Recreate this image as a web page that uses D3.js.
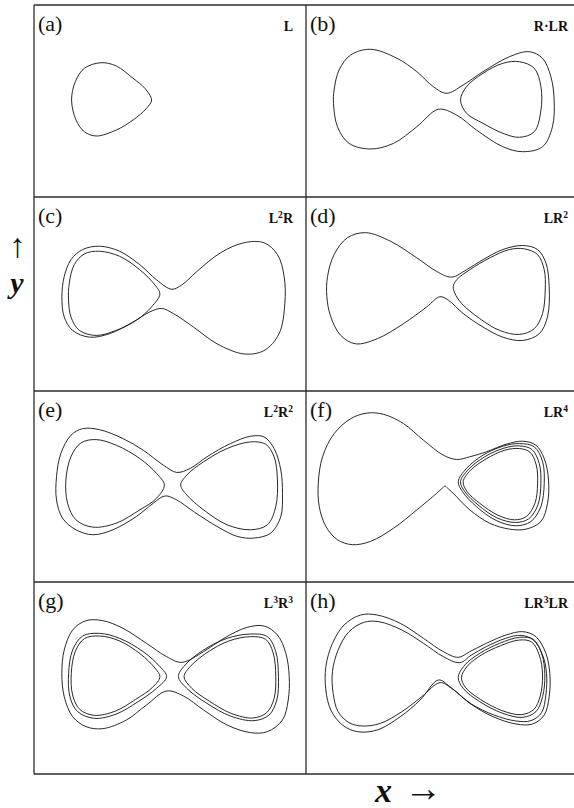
<!DOCTYPE html>
<html>
<head>
<meta charset="utf-8">
<script src="https://cdn.jsdelivr.net/npm/d3@7"></script>
<style>
  html, body { margin: 0; padding: 0; background: #fff; }
  svg { display: block; }
</style>
</head>
<body>
<svg id="fig" width="574" height="808"></svg>
<script>
// Periodic orbits in the (x, y) phase plane, one panel per symbolic sequence.
// Each orbit is stored as closed loops of (x, y) samples.

const panelLetters = ["(a)", "(b)", "(c)", "(d)", "(e)", "(f)", "(g)", "(h)"];

// symbolic names: [base, superscript] pieces
const symbolNames = [
  [["L", ""]],
  [["R·LR", ""]],
  [["L", "2"], ["R", ""]],
  [["LR", "2"]],
  [["L", "2"], ["R", "2"]],
  [["LR", "4"]],
  [["L", "3"], ["R", "3"]],
  [["LR", "3"], ["LR", ""]]
];

// (a) L
const orbitA1 = [[-1.366,0.766],[-1.066,0.70],[-0.734,0.454],[-0.50,0.254],[-0.366,0.02],[-0.466,-0.146],[-0.734,-0.38],[-1.066,-0.58],[-1.466,-0.70],[-1.70,-0.614],[-1.866,-0.38],[-1.954,0.02],[-1.88,0.386],[-1.70,0.654]];

// (b) R·LR
const orbitB1 = [[0.134,0.154],[-0.134,0.286],[-0.466,0.586],[-0.866,0.854],[-1.40,1.034],[-1.80,0.92],[-2.034,0.62],[-2.134,0.22],[-2.146,-0.046],[-2.066,-0.514],[-1.834,-0.846],[-1.40,-0.96],[-0.934,-0.846],[-0.466,-0.514],[-0.034,-0.166],[0.334,-0.28],[0.734,-0.58],[1.266,-0.914],[1.666,-1.014],[2.066,-0.914],[2.266,-0.514],[2.30,0.02],[2.234,0.486],[2.066,0.854],[1.80,0.986],[1.40,0.886],[0.866,0.586],[0.466,0.32]];
const orbitB2 = [[0.414,0.02],[0.534,0.286],[0.866,0.554],[1.266,0.754],[1.60,0.786],[1.90,0.654],[2.034,0.286],[2.034,-0.18],[1.90,-0.614],[1.60,-0.726],[1.266,-0.646],[0.866,-0.446],[0.534,-0.246]];

// (c) L²R
const orbitC1 = [[0.034,0.094],[-0.266,0.28],[-0.60,0.58],[-1.0,0.846],[-1.40,0.946],[-1.734,0.88],[-1.966,0.68],[-2.10,0.346],[-2.146,-0.054],[-2.10,-0.454],[-1.934,-0.72],[-1.60,-0.854],[-1.20,-0.786],[-0.734,-0.554],[-0.40,-0.354],[-0.166,-0.286],[0.066,-0.386],[0.466,-0.654],[0.934,-0.986],[1.466,-1.186],[1.866,-1.12],[2.166,-0.786],[2.28,-0.186],[2.266,0.346],[2.134,0.78],[1.866,1.014],[1.466,1.014],[1.0,0.814],[0.534,0.446],[0.234,0.18]];
const orbitC2 = [[-0.20,0.0],[-0.30,0.18],[-0.60,0.48],[-1.0,0.746],[-1.40,0.846],[-1.70,0.794],[-1.90,0.58],[-2.0,0.214],[-2.014,-0.12],[-1.966,-0.454],[-1.80,-0.72],[-1.466,-0.82],[-1.066,-0.72],[-0.666,-0.52],[-0.366,-0.254]];

// (d) LR²
const orbitD1 = [[0.234,0.334],[-0.066,0.446],[-0.466,0.714],[-1.0,1.046],[-1.50,1.214],[-1.866,1.114],[-2.134,0.78],[-2.266,0.346],[-2.28,-0.054],[-2.20,-0.454],[-2.0,-0.82],[-1.70,-0.986],[-1.266,-0.886],[-0.734,-0.586],[-0.266,-0.254],[0.0,-0.054],[0.166,-0.12],[0.466,-0.386],[0.866,-0.654],[1.266,-0.854],[1.666,-0.92],[2.0,-0.786],[2.166,-0.454],[2.20,0.146],[2.134,0.614],[1.966,0.88],[1.666,0.96],[1.266,0.88],[0.866,0.68],[0.534,0.48]];
const orbitD2 = [[0.266,0.146],[0.334,0.28],[0.60,0.48],[1.0,0.714],[1.40,0.88],[1.70,0.894],[1.966,0.78],[2.10,0.48],[2.12,0.08],[2.066,-0.386],[1.90,-0.686],[1.60,-0.80],[1.20,-0.72],[0.80,-0.486],[0.434,-0.186],[0.30,0.014]];

// (e) L²R²
const orbitE1 = [[0.133,0.283],[-0.133,0.43],[-0.533,0.73],[-0.933,0.963],[-1.40,1.143],[-1.733,1.163],[-1.967,1.03],[-2.167,0.663],[-2.253,0.197],[-2.253,-0.27],[-2.133,-0.637],[-1.867,-0.87],[-1.533,-0.97],[-1.133,-0.87],[-0.667,-0.603],[-0.333,-0.337],[-0.10,-0.19],[0.133,-0.27],[0.467,-0.503],[0.933,-0.803],[1.333,-1.003],[1.667,-1.037],[2.0,-0.937],[2.20,-0.603],[2.233,-0.137],[2.20,0.33],[2.067,0.763],[1.867,0.997],[1.60,1.01],[1.20,0.863],[0.733,0.597],[0.40,0.363]];
const orbitE2 = [[-0.113,0.03],[-0.267,0.263],[-0.60,0.563],[-1.067,0.83],[-1.467,0.943],[-1.767,0.877],[-1.967,0.597],[-2.067,0.13],[-2.033,-0.337],[-1.867,-0.67],[-1.533,-0.817],[-1.067,-0.737],[-0.60,-0.47],[-0.267,-0.237]];
const orbitE3 = [[0.213,0.03],[0.333,0.23],[0.667,0.497],[1.133,0.763],[1.60,0.897],[1.90,0.85],[2.067,0.597],[2.133,0.13],[2.10,-0.403],[1.933,-0.77],[1.60,-0.87],[1.133,-0.77],[0.667,-0.47],[0.333,-0.17]];

// (f) LR⁴
const orbitF1 = [[0.333,0.543],[0.067,0.63],[-0.333,0.93],[-0.733,1.263],[-1.133,1.45],[-1.467,1.477],[-1.80,1.363],[-2.133,1.063],[-2.367,0.597],[-2.453,0.063],[-2.433,-0.403],[-2.30,-0.803],[-2.067,-1.07],[-1.767,-1.17],[-1.40,-1.103],[-0.933,-0.837],[-0.467,-0.47],[-0.067,-0.137],[0.05,-0.03],[0.10,0.01],[0.15,-0.03],[0.267,-0.137],[0.60,-0.47],[1.0,-0.737],[1.40,-0.857],[1.733,-0.857],[2.033,-0.703],[2.167,-0.337],[2.187,0.13],[2.10,0.563],[1.933,0.83],[1.667,0.91],[1.333,0.85],[0.933,0.697],[0.60,0.597]];
const orbitF2 = [[0.367,0.097],[0.533,0.363],[0.867,0.63],[1.267,0.81],[1.60,0.863],[1.90,0.797],[2.067,0.497],[2.10,0.063],[2.033,-0.403],[1.833,-0.703],[1.533,-0.79],[1.133,-0.683],[0.733,-0.403],[0.453,-0.103]];
const orbitF3 = [[0.413,0.097],[0.573,0.343],[0.90,0.597],[1.287,0.77],[1.60,0.817],[1.853,0.743],[2.0,0.463],[2.033,0.063],[1.973,-0.37],[1.787,-0.65],[1.52,-0.723],[1.147,-0.63],[0.767,-0.37],[0.50,-0.103]];
const orbitF4 = [[0.467,0.097],[0.62,0.33],[0.933,0.557],[1.307,0.73],[1.60,0.763],[1.813,0.69],[1.94,0.43],[1.967,0.063],[1.913,-0.337],[1.74,-0.603],[1.50,-0.67],[1.167,-0.577],[0.80,-0.337],[0.547,-0.103]];

// (g) L³R³
const orbitG1 = [[0.233,0.313],[-0.067,0.427],[-0.467,0.693],[-0.933,0.993],[-1.333,1.147],[-1.667,1.147],[-1.933,0.96],[-2.10,0.56],[-2.147,0.093],[-2.10,-0.373],[-1.933,-0.773],[-1.667,-0.973],[-1.333,-1.013],[-0.867,-0.84],[-0.467,-0.54],[-0.067,-0.26],[0.267,-0.36],[0.667,-0.64],[1.133,-0.94],[1.60,-1.093],[1.933,-1.073],[2.233,-0.84],[2.347,-0.44],[2.367,0.027],[2.30,0.493],[2.133,0.86],[1.867,1.04],[1.533,1.013],[1.067,0.793],[0.667,0.527]];
const orbitG2 = [[-0.067,0.027],[-0.20,0.227],[-0.533,0.527],[-1.0,0.793],[-1.40,0.893],[-1.733,0.84],[-1.933,0.56],[-2.013,0.093],[-1.987,-0.373],[-1.833,-0.673],[-1.50,-0.807],[-1.067,-0.72],[-0.633,-0.473],[-0.267,-0.207]];
const orbitG3 = [[-0.20,0.027],[-0.30,0.20],[-0.587,0.48],[-1.013,0.747],[-1.40,0.84],[-1.70,0.787],[-1.88,0.533],[-1.96,0.093],[-1.933,-0.34],[-1.793,-0.627],[-1.50,-0.747],[-1.08,-0.66],[-0.68,-0.427],[-0.347,-0.187]];
const orbitG4 = [[0.167,0.027],[0.30,0.26],[0.667,0.56],[1.133,0.793],[1.60,0.88],[1.933,0.827],[2.10,0.527],[2.153,0.027],[2.12,-0.44],[1.967,-0.74],[1.667,-0.853],[1.20,-0.76],[0.733,-0.507],[0.333,-0.207]];
const orbitG5 = [[0.28,0.027],[0.40,0.227],[0.733,0.507],[1.167,0.74],[1.60,0.827],[1.90,0.773],[2.047,0.507],[2.10,0.027],[2.067,-0.407],[1.92,-0.693],[1.647,-0.80],[1.213,-0.707],[0.787,-0.467],[0.433,-0.207]];

// (h) LR³LR
const orbitH1 = [[0.367,0.413],[0.067,0.527],[-0.333,0.793],[-0.80,1.093],[-1.267,1.26],[-1.60,1.26],[-1.933,1.06],[-2.167,0.693],[-2.30,0.227],[-2.30,-0.24],[-2.20,-0.64],[-1.967,-0.94],[-1.667,-1.073],[-1.267,-1.04],[-0.80,-0.773],[-0.40,-0.44],[-0.033,-0.04],[0.20,-0.173],[0.60,-0.507],[1.067,-0.773],[1.533,-0.92],[1.867,-0.92],[2.10,-0.74],[2.20,-0.373],[2.213,0.093],[2.133,0.493],[1.933,0.827],[1.667,0.927],[1.333,0.86],[0.933,0.693],[0.60,0.527]];
const orbitH2 = [[0.40,0.307],[0.067,0.427],[-0.333,0.693],[-0.767,0.96],[-1.233,1.127],[-1.533,1.113],[-1.833,0.927],[-2.053,0.56],[-2.167,0.127],[-2.153,-0.307],[-2.053,-0.673],[-1.833,-0.893],[-1.567,-0.96],[-1.20,-0.907],[-0.767,-0.673],[-0.367,-0.373],[0.0,-0.093],[0.233,-0.207],[0.633,-0.52],[1.087,-0.74],[1.533,-0.86],[1.833,-0.853],[2.047,-0.693],[2.133,-0.34],[2.147,0.093],[2.067,0.46],[1.88,0.76],[1.633,0.853],[1.32,0.793],[0.933,0.627],[0.633,0.46]];
const orbitH3 = [[0.367,0.013],[0.50,0.26],[0.80,0.493],[1.20,0.693],[1.60,0.813],[1.88,0.773],[2.047,0.493],[2.113,0.06],[2.067,-0.373],[1.933,-0.673],[1.667,-0.787],[1.267,-0.707],[0.80,-0.473],[0.467,-0.207]];
const orbitH4 = [[0.433,0.013],[0.553,0.24],[0.833,0.46],[1.22,0.647],[1.60,0.76],[1.847,0.72],[2.0,0.46],[2.067,0.06],[2.02,-0.36],[1.893,-0.627],[1.64,-0.733],[1.253,-0.653],[0.813,-0.427],[0.513,-0.187]];

const panelOrbits = [
  [orbitA1],
  [orbitB1, orbitB2],
  [orbitC1, orbitC2],
  [orbitD1, orbitD2],
  [orbitE1, orbitE2, orbitE3],
  [orbitF1, orbitF2, orbitF3, orbitF4],
  [orbitG1, orbitG2, orbitG3, orbitG4, orbitG5],
  [orbitH1, orbitH2, orbitH3, orbitH4]
];

// phase-plane window shown in every panel
const xDomain = [-2.7, 2.7];
const yDomain = [-1.92, 1.92];

// ---- layout ----
const svg = d3.select("#fig");
svg.append("rect").attr("width", 574).attr("height", 808).attr("fill", "#fff");

const colEdges = [34, 306, 575];
const rowEdges = [5, 197, 391, 582, 774];

const frame = svg.append("g")
  .attr("fill", "none")
  .attr("stroke", "#2b2b2b")
  .attr("stroke-width", 1.3);

// horizontal rules
rowEdges.forEach(yv => {
  frame.append("line").attr("x1", colEdges[0]).attr("x2", colEdges[2])
    .attr("y1", yv).attr("y2", yv);
});
// vertical rules
colEdges.forEach(xv => {
  frame.append("line").attr("x1", xv).attr("x2", xv)
    .attr("y1", rowEdges[0]).attr("y2", rowEdges[rowEdges.length - 1]);
});

const serif = "'Liberation Serif', 'Times New Roman', 'DejaVu Serif', serif";

panelOrbits.forEach((loops, i) => {
  const col = i % 2, row = Math.floor(i / 2);
  const x0 = colEdges[col], x1 = colEdges[col + 1] - (col === 1 ? 1 : 0);
  const y0 = rowEdges[row], y1 = rowEdges[row + 1];

  const x = d3.scaleLinear().domain(xDomain).range([x0, x1]);
  const y = d3.scaleLinear().domain(yDomain).range([y1, y0]);

  const line = d3.line()
    .x(d => x(d[0]))
    .y(d => y(d[1]))
    .curve(d3.curveCatmullRomClosed.alpha(0.5));

  const g = svg.append("g");
  g.selectAll("path")
    .data(loops)
    .join("path")
    .attr("d", line)
    .attr("fill", "none")
    .attr("stroke", "#1e1e1e")
    .attr("stroke-width", 0.95)
    .attr("stroke-linejoin", "round");

  // panel letter
  g.append("text")
    .attr("x", x0 + 4)
    .attr("y", y0 + 26)
    .attr("font-family", serif)
    .attr("font-size", 22)
    .attr("fill", "#111")
    .text(panelLetters[i]);

  // symbolic sequence
  const sym = g.append("text")
    .attr("x", x1 - (col === 0 ? 13 : 6))
    .attr("y", y0 + 26)
    .attr("text-anchor", "end")
    .attr("font-family", serif)
    .attr("font-weight", "bold")
    .attr("font-size", 14)
    .attr("fill", "#111");
  symbolNames[i].forEach(([base, sup]) => {
    sym.append("tspan").text(base);
    if (sup) {
      sym.append("tspan").attr("font-size", 9.5).attr("dy", -5).text(sup);
      sym.append("tspan").attr("font-size", 1).attr("dy", 5).text("\u200A");
    }
  });
});

// axis labels
svg.append("text")
  .attr("x", 17.5).attr("y", 257)
  .attr("text-anchor", "middle")
  .attr("font-family", serif)
  .attr("font-size", 34)
  .attr("fill", "#111")
  .text("↑");
svg.append("text")
  .attr("x", 17).attr("y", 293)
  .attr("text-anchor", "middle")
  .attr("font-family", serif)
  .attr("font-weight", "bold")
  .attr("font-style", "italic")
  .attr("font-size", 30)
  .attr("fill", "#111")
  .text("y");
svg.append("text")
  .attr("x", 375).attr("y", 802)
  .attr("font-family", serif)
  .attr("font-weight", "bold")
  .attr("font-style", "italic")
  .attr("font-size", 34)
  .attr("fill", "#111")
  .text("x");
svg.append("text")
  .attr("x", 404).attr("y", 801)
  .attr("font-family", serif)
  .attr("font-size", 38)
  .attr("fill", "#111")
  .text("→");
</script>
</body>
</html>
